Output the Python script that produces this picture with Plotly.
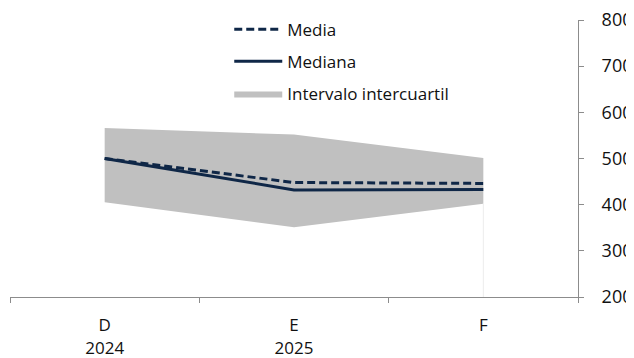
import plotly.graph_objects as go

categories = ["D<br>2024", "E<br>2025", "F"]
media = [500, 448, 446]
mediana = [500, 432, 433]
q_low = [405, 351, 402]
q_high = [566, 552, 501]
y_ticks = [200, 300, 400, 500, 600, 700, 800]

navy = "#0f2747"
band = "#c0c0c0"
font = "'Open Sans', sans-serif"

fig = go.Figure()
fig.add_trace(go.Scatter(x=categories, y=q_low, mode="lines", line=dict(width=0, color=band),
                         showlegend=False, hoverinfo="skip", legendgroup="c"))
fig.add_trace(go.Scatter(x=categories, y=q_high, mode="lines", line=dict(width=0, color=band),
                         fill="tonexty", fillcolor=band, name="Intervalo intercuartil",
                         legendgroup="c", legendrank=3))
fig.add_trace(go.Scatter(x=[categories[-1], categories[-1]], y=[y_ticks[0], q_low[-1]], mode="lines",
                         line=dict(width=1, color="#ececec"), showlegend=False, hoverinfo="skip"))
fig.add_trace(go.Scatter(x=categories, y=media, mode="lines", name="Media", legendgroup="a",
                         line=dict(color=navy, width=3, dash="8px,4px"), legendrank=1))
fig.add_trace(go.Scatter(x=categories, y=mediana, mode="lines", name="Mediana", legendgroup="b",
                         line=dict(color=navy, width=3), legendrank=2))

# page body has an 8px default margin; figure sized so the plot lands where the reference has it
fig.update_layout(
    width=626, height=350,
    margin=dict(l=2, r=56, t=12, b=61),
    paper_bgcolor="white", plot_bgcolor="white",
    font=dict(family=font, size=17, color="#111111"),
    legend=dict(x=0.386, y=1.03, xanchor="left", yanchor="top", bgcolor="rgba(0,0,0,0)",
                font=dict(size=17), tracegroupgap=7, itemwidth=48, traceorder="grouped"),
    showlegend=True,
)
fig.update_xaxes(
    type="category", range=[-0.5, 2.5], tickson="boundaries", ticks="outside", ticklen=5,
    tickcolor="#8c8c8c", showline=True, linecolor="#8c8c8c", linewidth=1, showgrid=False,
    zeroline=False, tickfont=dict(size=17), ticklabelstandoff=13, automargin=False,
    ticklabeloverflow="allow",
)
fig.update_yaxes(
    side="right", range=[y_ticks[0], y_ticks[-1]], tickvals=y_ticks, ticks="outside", ticklen=5,
    tickcolor="#8c8c8c", showline=True, linecolor="#8c8c8c", linewidth=1, showgrid=False,
    zeroline=False, tickfont=dict(size=18), ticklabelstandoff=14, automargin=False,
    ticklabeloverflow="allow",
)

fig.write_html("out.html")
